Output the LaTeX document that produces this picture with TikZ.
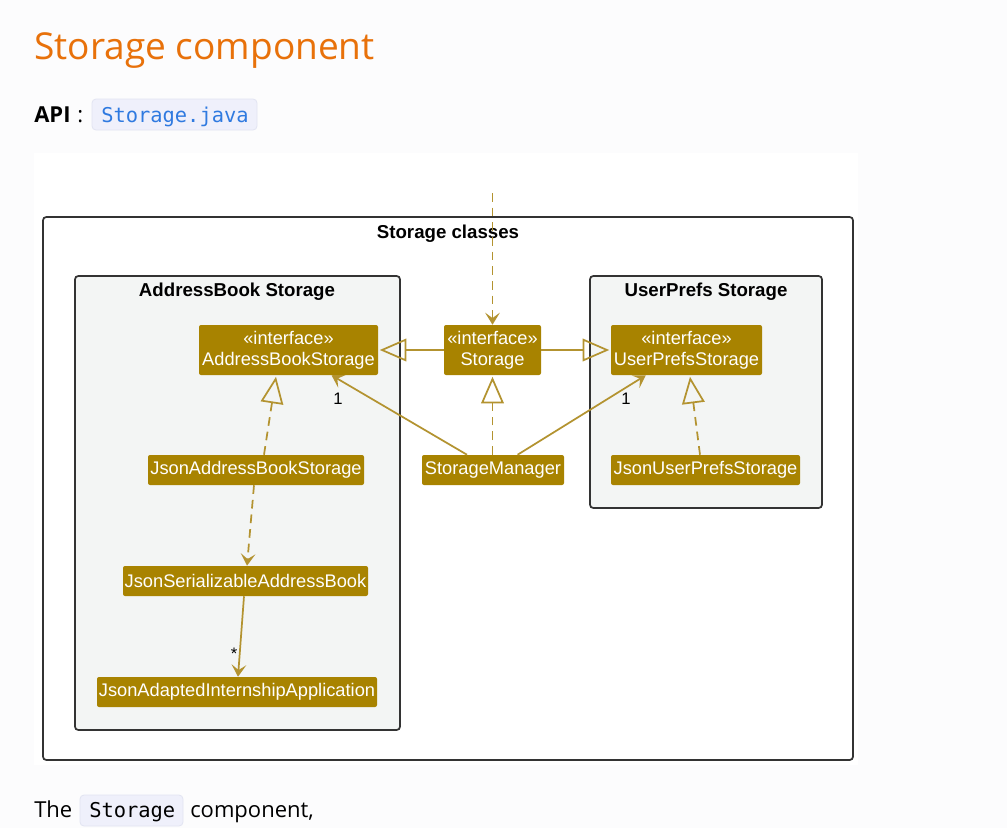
\documentclass[tikz,border=0pt]{standalone}
\usepackage{fontspec}
\setmainfont{Open Sans}
\newfontfamily\diafont{Liberation Sans}
\newfontfamily\codefont{DejaVu Sans Mono}
\usetikzlibrary{arrows.meta,calc}
\definecolor{pagebg}{HTML}{FCFCFD}
\definecolor{headorange}{HTML}{E8710A}
\definecolor{codeblue}{HTML}{2F7AE0}
\definecolor{codebg}{HTML}{EFF0FB}
\definecolor{codeborder}{HTML}{E2E4F2}
\definecolor{clsfill}{HTML}{A88300}
\definecolor{edgecol}{HTML}{B39330}
\definecolor{pkgfill}{HTML}{F3F5F4}
\definecolor{framecol}{HTML}{333333}
\tikzset{
  cls/.style={fill=clsfill, text=white, rounded corners=1.5pt, inner sep=0pt,
    font=\diafont\fontsize{13.7}{15.5}\selectfont, align=center},
  frame/.style={draw=framecol, line width=1.3pt, rounded corners=2.5pt},
  pkgtitle/.style={font=\diafont\bfseries\fontsize{14}{16}\selectfont, text=black},
  edge/.style={draw=edgecol, line width=1.3pt},
  dashedge/.style={dash pattern=on 6.5pt off 4.5pt},
  gen/.style={-{Triangle[open, length=20pt, width=17pt, line width=1.3pt]}},
  dep/.style={-{Stealth[length=9pt, width=11pt, inset=4pt]}},
  mult/.style={font=\diafont\fontsize{12.5}{14}\selectfont, text=black},
  codebox/.style={fill=codebg, draw=codeborder, line width=0.6pt, rounded corners=3pt},
}
\begin{document}
\begin{tikzpicture}[x=0.75pt, y=-0.75pt]
\useasboundingbox (0,0) rectangle (1007,828);
\fill[pagebg] (0,0) rectangle (1007,828);
% heading
\node[anchor=base west, inner sep=0pt, text=headorange, font=\fontsize{27.8}{33}\selectfont] (head) at (34,59) {Storage component};
% API line
\node[anchor=base west, inner sep=0pt, font=\bfseries\fontsize{16.5}{20}\selectfont] (api) at (34,122) {API};
\node[anchor=base west, inner sep=0pt, font=\fontsize{16.5}{20}\selectfont] (colon) at (77,122) {:};
\draw[codebox] (92,99) rectangle (257,130);
\node[anchor=base west, inner sep=0pt, text=codeblue, font=\codefont\fontsize{15.3}{18}\selectfont] (apicode) at (101,122) {Storage.java};
% diagram canvas
\fill[white] (34,153) rectangle (858,765);
% outer frame
\draw[frame, fill=white] (43,217) rectangle (853,760);
\node[pkgtitle] (t0) at (448,234) {Storage classes};
% packages
\draw[frame, fill=pkgfill] (75,276) rectangle (400,730);
\node[pkgtitle] (t1) at (237,292) {AddressBook Storage};
\draw[frame, fill=pkgfill] (590,276) rectangle (822,508);
\node[pkgtitle] (t2) at (706,292) {UserPrefs Storage};
% classes
\node[cls, minimum width=179*0.75pt, minimum height=50*0.75pt] (abs) at (288.5,350) {«interface»\\AddressBookStorage};
\node[cls, minimum width=97*0.75pt, minimum height=50*0.75pt] (st) at (492.5,350) {«interface»\\Storage};
\node[cls, minimum width=151*0.75pt, minimum height=50*0.75pt] (ups) at (686.5,350) {«interface»\\UserPrefsStorage};
\node[cls, minimum width=216*0.75pt, minimum height=30*0.75pt] (jabs) at (256,470) {JsonAddressBookStorage};
\node[cls, minimum width=142*0.75pt, minimum height=30*0.75pt] (sm) at (493,470) {StorageManager};
\node[cls, minimum width=189*0.75pt, minimum height=30*0.75pt] (jups) at (705.5,470) {JsonUserPrefsStorage};
\node[cls, minimum width=245*0.75pt, minimum height=30*0.75pt] (jsab) at (245.5,581) {JsonSerializableAddressBook};
\node[cls, minimum width=280*0.75pt, minimum height=30*0.75pt] (jaia) at (237,692) {JsonAdaptedInternshipApplication};
% edges
\coordinate (top) at (492.5,193);
\draw[edge, dashedge, dep] (top) -- (st.north);
\draw[edge, gen] (st.west) -- ($(abs.east)+(1.5,0)$);
\draw[edge, gen] (st.east) -- ($(ups.west)+(-1.5,0)$);
\draw[edge, dashedge, gen] ($(sm.north)+(-0.5,0)$) -- ($(st.south)+(0,1.5)$);
\draw[edge, dep] (sm) -- (abs);
\draw[edge, dep] (sm) -- (ups);
\draw[edge, dashedge, gen] ($(jabs.north)+(8,0)$) -- ($(abs.south)+(-12.5,1.5)$);
\draw[edge, dashedge, gen] ($(jups.north)+(-5.5,0)$) -- ($(ups.south)+(3.5,1.5)$);
\draw[edge, dashedge, dep] ($(jabs.south)+(-2,0)$) -- ($(jsab.north)+(1.5,0)$);
\draw[edge, dep] ($(jsab.south)+(-1.5,0)$) -- ($(jaia.north)+(1,0)$);
% multiplicities
\node[mult] (m1) at (338,399) {1};
\node[mult] (m2) at (626,399) {1};
\node[mult] (m3) at (234,654) {*};
% bottom text
\node[anchor=base west, inner sep=0pt, font=\fontsize{16.5}{20}\selectfont] (the) at (34,817) {The};
\draw[codebox] (80,795) rectangle (183,826);
\node[anchor=base west, inner sep=0pt, font=\codefont\fontsize{15.3}{18}\selectfont] (stcode) at (89,817) {Storage};
\node[anchor=base west, inner sep=0pt, font=\fontsize{16.5}{20}\selectfont] (comp) at (190,817) {component,};
\end{tikzpicture}
\end{document}
